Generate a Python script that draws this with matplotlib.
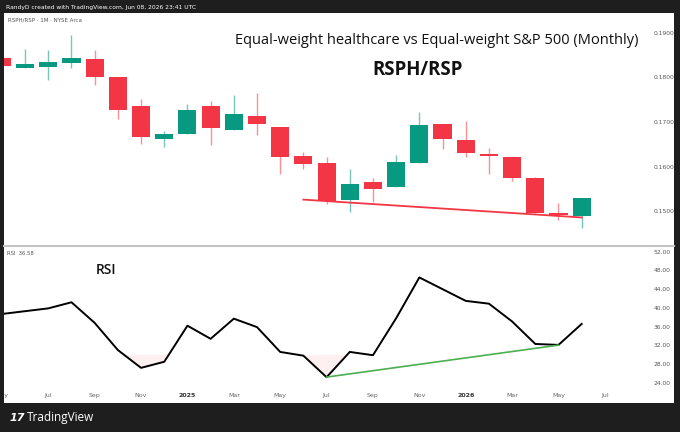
import matplotlib
matplotlib.use("Agg")
import matplotlib.pyplot as plt
import numpy as np

# monthly candles, May 2024 .. Jun 2026
months = ['2024-05', '2024-06', '2024-07', '2024-08', '2024-09', '2024-10', '2024-11', '2024-12',
          '2025-01', '2025-02', '2025-03', '2025-04', '2025-05', '2025-06', '2025-07', '2025-08',
          '2025-09', '2025-10', '2025-11', '2025-12', '2026-01', '2026-02', '2026-03', '2026-04',
          '2026-05', '2026-06']
open_ = [0.1844, 0.1820, 0.1824, 0.1832, 0.1842, 0.1801, 0.1736, 0.1663, 0.1674, 0.1736, 0.1682, 0.1714, 0.1689,
         0.1624, 0.1608, 0.1526, 0.1566, 0.1554, 0.1609, 0.1695, 0.1659, 0.1628, 0.1621, 0.1575, 0.1497, 0.1490]
close = [0.1825, 0.1829, 0.1835, 0.1843, 0.1800, 0.1726, 0.1666, 0.1673, 0.1727, 0.1687, 0.1718, 0.1695, 0.1621,
         0.1607, 0.1523, 0.1561, 0.1550, 0.1611, 0.1693, 0.1663, 0.1630, 0.1624, 0.1574, 0.1496, 0.1493, 0.1529]
high = [0.1850, 0.1863, 0.1861, 0.1895, 0.1861, 0.1801, 0.1752, 0.1680, 0.1741, 0.1746, 0.1761, 0.1766, 0.1689,
        0.1633, 0.1621, 0.1595, 0.1575, 0.1626, 0.1722, 0.1695, 0.1703, 0.1641, 0.1621, 0.1577, 0.1519, 0.1529]
low = [0.1820, 0.1820, 0.1795, 0.1821, 0.1784, 0.1707, 0.1651, 0.1645, 0.1674, 0.1648, 0.1682, 0.1670, 0.1584,
       0.1594, 0.1517, 0.1499, 0.1520, 0.1554, 0.1609, 0.1639, 0.1621, 0.1584, 0.1569, 0.1496, 0.1481, 0.1462]
rsi = [38.7, 39.3, 39.9, 41.2, 36.8, 31.0, 27.2, 28.5, 36.2, 33.4, 37.7, 35.9, 30.6, 29.8, 25.2, 30.6,
       29.9, 37.8, 46.5, 44.0, 41.5, 40.9, 37.1, 32.3, 32.1, 36.58]

price_ticks = [0.15, 0.16, 0.17, 0.18, 0.19]
rsi_ticks = [24, 28, 32, 36, 40, 44, 48, 52]
time_labels = {0: 'May', 2: 'Jul', 4: 'Sep', 6: 'Nov', 8: '2025', 10: 'Mar', 12: 'May', 14: 'Jul',
               16: 'Sep', 18: 'Nov', 20: '2026', 22: 'Mar', 24: 'May', 26: 'Jul'}

# trendlines (month index, value)
price_line = [(13, 0.15264), (25, 0.14865)]
rsi_line = [(14, 25.23), (24, 32.05)]

UP, DOWN = '#089981', '#f23645'
BG = '#1e1e1e'
W, H = 680, 432


def fx(px):
    return px / W


def fy(py):
    return 1 - py / H


fig = plt.figure(figsize=(6.8, 4.32), dpi=100, facecolor=BG)

# white chart area
fig.patches.append(plt.Rectangle((fx(4), fy(403)), fx(670), (403 - 13) / H, transform=fig.transFigure,
                                 facecolor='white', edgecolor='none', zorder=-5))

x = np.arange(len(months))
xlim = (0.09, 27.73)

# price pane
ax = fig.add_axes([fx(4), fy(244), fx(641), (244 - 13) / H])
ax.set_facecolor('none')
for i in range(len(months)):
    c = UP if close[i] >= open_[i] else DOWN
    ax.vlines(x[i], low[i], high[i], color=c, lw=1.0, alpha=0.55, zorder=2)
    bot = min(open_[i], close[i])
    h = max(abs(close[i] - open_[i]), 0.00035)
    ax.bar(x[i], h, bottom=bot, width=0.78, color=c, edgecolor='none', zorder=3)
ax.plot([p[0] for p in price_line], [p[1] for p in price_line], color=DOWN, lw=1.3, zorder=4)
ax.set_xlim(*xlim)
ax.set_ylim(0.14271, 0.19440)
ax.yaxis.tick_right()
ax.set_yticks(price_ticks)
ax.set_yticklabels(['%.4f' % v for v in price_ticks])
ax.tick_params(axis='y', length=0, pad=6, labelsize=4.3, labelcolor='#555555')
ax.set_xticks([])
for s in ax.spines.values():
    s.set_visible(False)

# rsi pane
rx = fig.add_axes([fx(4), fy(388), fx(641), (388 - 247) / H])
rx.set_facecolor('none')
r = np.array(rsi)
rx.fill_between(x, r, 30, where=r < 30, interpolate=True, color='#f23645', alpha=0.07, lw=0)
rx.plot(x, r, color='black', lw=1.4, zorder=3)
rx.plot([p[0] for p in rsi_line], [p[1] for p in rsi_line], color='#4caf50', lw=1.2, zorder=4)
rx.set_xlim(*xlim)
rx.set_ylim(22.9, 53.0)
rx.yaxis.tick_right()
rx.set_yticks(rsi_ticks)
rx.set_yticklabels(['%.2f' % v for v in rsi_ticks])
rx.tick_params(axis='y', length=0, pad=6, labelsize=4.3, labelcolor='#555555')
rx.set_xticks([])
for s in rx.spines.values():
    s.set_visible(False)

# time scale
tx = fig.add_axes([fx(4), fy(403), fx(641), (403 - 388) / H])
tx.set_facecolor('none')
tx.set_xlim(*xlim)
tx.set_ylim(0, 1)
tx.axis('off')
for i, lab in time_labels.items():
    bold = lab.isdigit()
    tx.text(i, 0.52, lab, ha='center', va='center', fontsize=4.5, color='#333333' if bold else '#666666',
            fontweight='bold' if bold else 'normal', clip_on=True)

# pane separator
fig.add_artist(plt.Line2D([fx(4), fx(674)], [fy(245.5), fy(245.5)], color='#c4c4c4', lw=1.5))

# texts
fig.text(fx(6), fy(7), 'RandyD created with TradingView.com, Jun 08, 2026 23:41 UTC', fontsize=4.3,
         color='white', va='center', ha='left')
fig.text(fx(8), fy(19.5), 'RSPH/RSP · 1M · NYSE Arca', fontsize=4.0, color='#555555', va='center')
fig.text(fx(7), fy(254), 'RSI  36.58', fontsize=3.8, color='#555555', va='center')
fig.text(fx(437), fy(41), 'Equal-weight healthcare vs Equal-weight S&P 500 (Monthly)', family='Open Sans',
         fontsize=10.5, color='#111111', ha='center', va='center')
fig.text(fx(418), fy(70), 'RSPH/RSP', family='Open Sans', fontsize=13.4, fontweight='bold',
         color='#111111', ha='center', va='center')
fig.text(fx(106), fy(270), 'RSI', family='Open Sans', fontsize=10, fontweight='semibold',
         color='#111111', ha='center', va='center')
fig.text(fx(10), fy(418), '17', fontsize=8, fontweight='bold', color='white', va='center', ha='left',
         fontstyle='italic')
fig.text(fx(27), fy(418), 'TradingView', family='Open Sans', fontsize=8.5, color='white', va='center',
         ha='left')

fig.savefig('out.png', dpi=100, facecolor=BG)
